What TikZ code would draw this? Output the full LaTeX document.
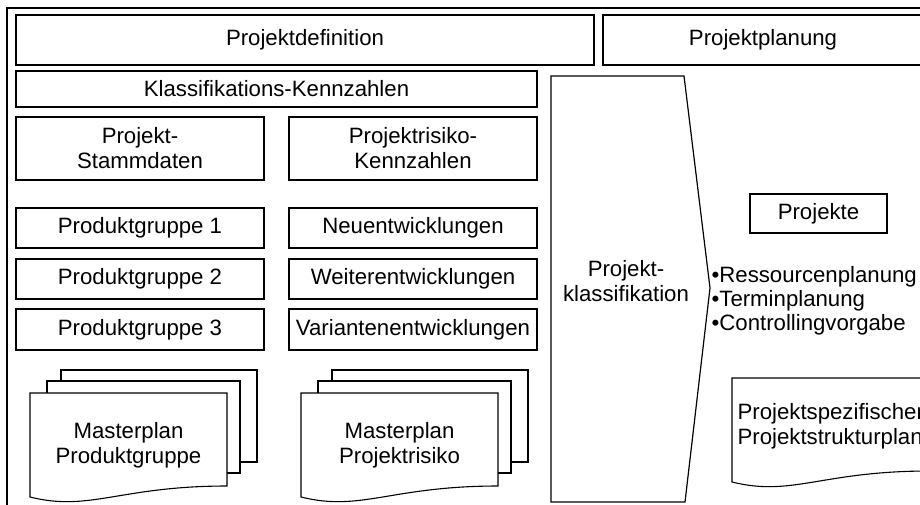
\documentclass[tikz,border=0pt]{standalone}
\usepackage{fontspec}
\setmainfont{Liberation Sans}
\begin{document}
\begin{tikzpicture}[x=1pt,y=-1pt, line width=1.2pt,
  txt/.style={inner sep=0pt, align=center, font=\fontsize{22.2}{25}\selectfont},
  box/.style={txt, draw},
  page/.style={draw, fill=white, line width=1.1pt}]
\useasboundingbox (0,0) rectangle (920,504);
\clip (0,0) rectangle (920,504);
% outer frame
\draw (7,8) rectangle (930,520);
% top row
\node[box, minimum width=578pt, minimum height=50pt] (def) at (305,40) {Projektdefinition};
\node[box, minimum width=320pt, minimum height=50pt] (plan) at (763,40) {Projektplanung};
\node[box, minimum width=521pt, minimum height=36pt] (klass) at (276.5,89) {Klassifikations-Kennzahlen};
% columns
\node[box, minimum width=248pt, minimum height=63pt] (stamm) at (140,148.5) {Projekt-\\Stammdaten};
\node[box, minimum width=248pt, minimum height=63pt] (risk) at (413,148.5) {Projektrisiko-\\Kennzahlen};
\node[box, minimum width=248pt, minimum height=40pt] (pg1) at (140,228) {Produktgruppe 1};
\node[box, minimum width=248pt, minimum height=40pt] (pg2) at (140,279) {Produktgruppe 2};
\node[box, minimum width=248pt, minimum height=41pt] (pg3) at (140,329.5) {Produktgruppe 3};
\node[box, minimum width=248pt, minimum height=40pt] (neu) at (413,228) {Neuentwicklungen};
\node[box, minimum width=248pt, minimum height=40pt] (weiter) at (413,279) {Weiterentwicklungen};
\node[box, minimum width=248pt, minimum height=41pt] (var) at (413,329.5) {Variantenentwicklungen};
% document stacks
\foreach \dx in {0,271}{
  \begin{scope}[shift={(\dx,0)}]
    \draw[page] (61,370) rectangle (257,462);
    \draw[page] (47,381) rectangle (240,473);
    \draw[page] (30,393) -- (227,393) -- (227,486)
      .. controls (120,486) and (90,512) .. (30,497) -- cycle;
  \end{scope}
}
\node[txt] (mpg) at (128.5,445) {Masterplan\\Produktgruppe};
\node[txt] (mpr) at (399.5,445) {Masterplan\\Projektrisiko};
% classification arrow
\coordinate (a1) at (551,76);
\coordinate (a2) at (684,76);
\coordinate (a3) at (710,288);
\coordinate (a4) at (685,502);
\coordinate (a5) at (551,502);
\draw (a1) -- (a2) -- (a3) -- (a4) -- (a5) -- cycle;
\node[txt] (pk) at (626,281) {Projekt-\\klassifikation};
% right side
\node[box, minimum width=137pt, minimum height=39pt] (proj) at (818.5,213.5) {Projekte};
\node[txt, align=left, anchor=west, font=\fontsize{22.2}{24}\selectfont] (list) at (711,301)
  {•Ressourcenplanung\\•Terminplanung\\•Controllingvorgabe};
\begin{scope}[shift={(702,-15)}]
  \draw[page] (30,393) -- (227,393) -- (227,486)
    .. controls (120,486) and (90,512) .. (30,497) -- cycle;
\end{scope}
\node[txt, align=left, anchor=west] (psp) at (737,426.5) {Projektspezifischer\\Projektstrukturplan};
\end{tikzpicture}
\end{document}
